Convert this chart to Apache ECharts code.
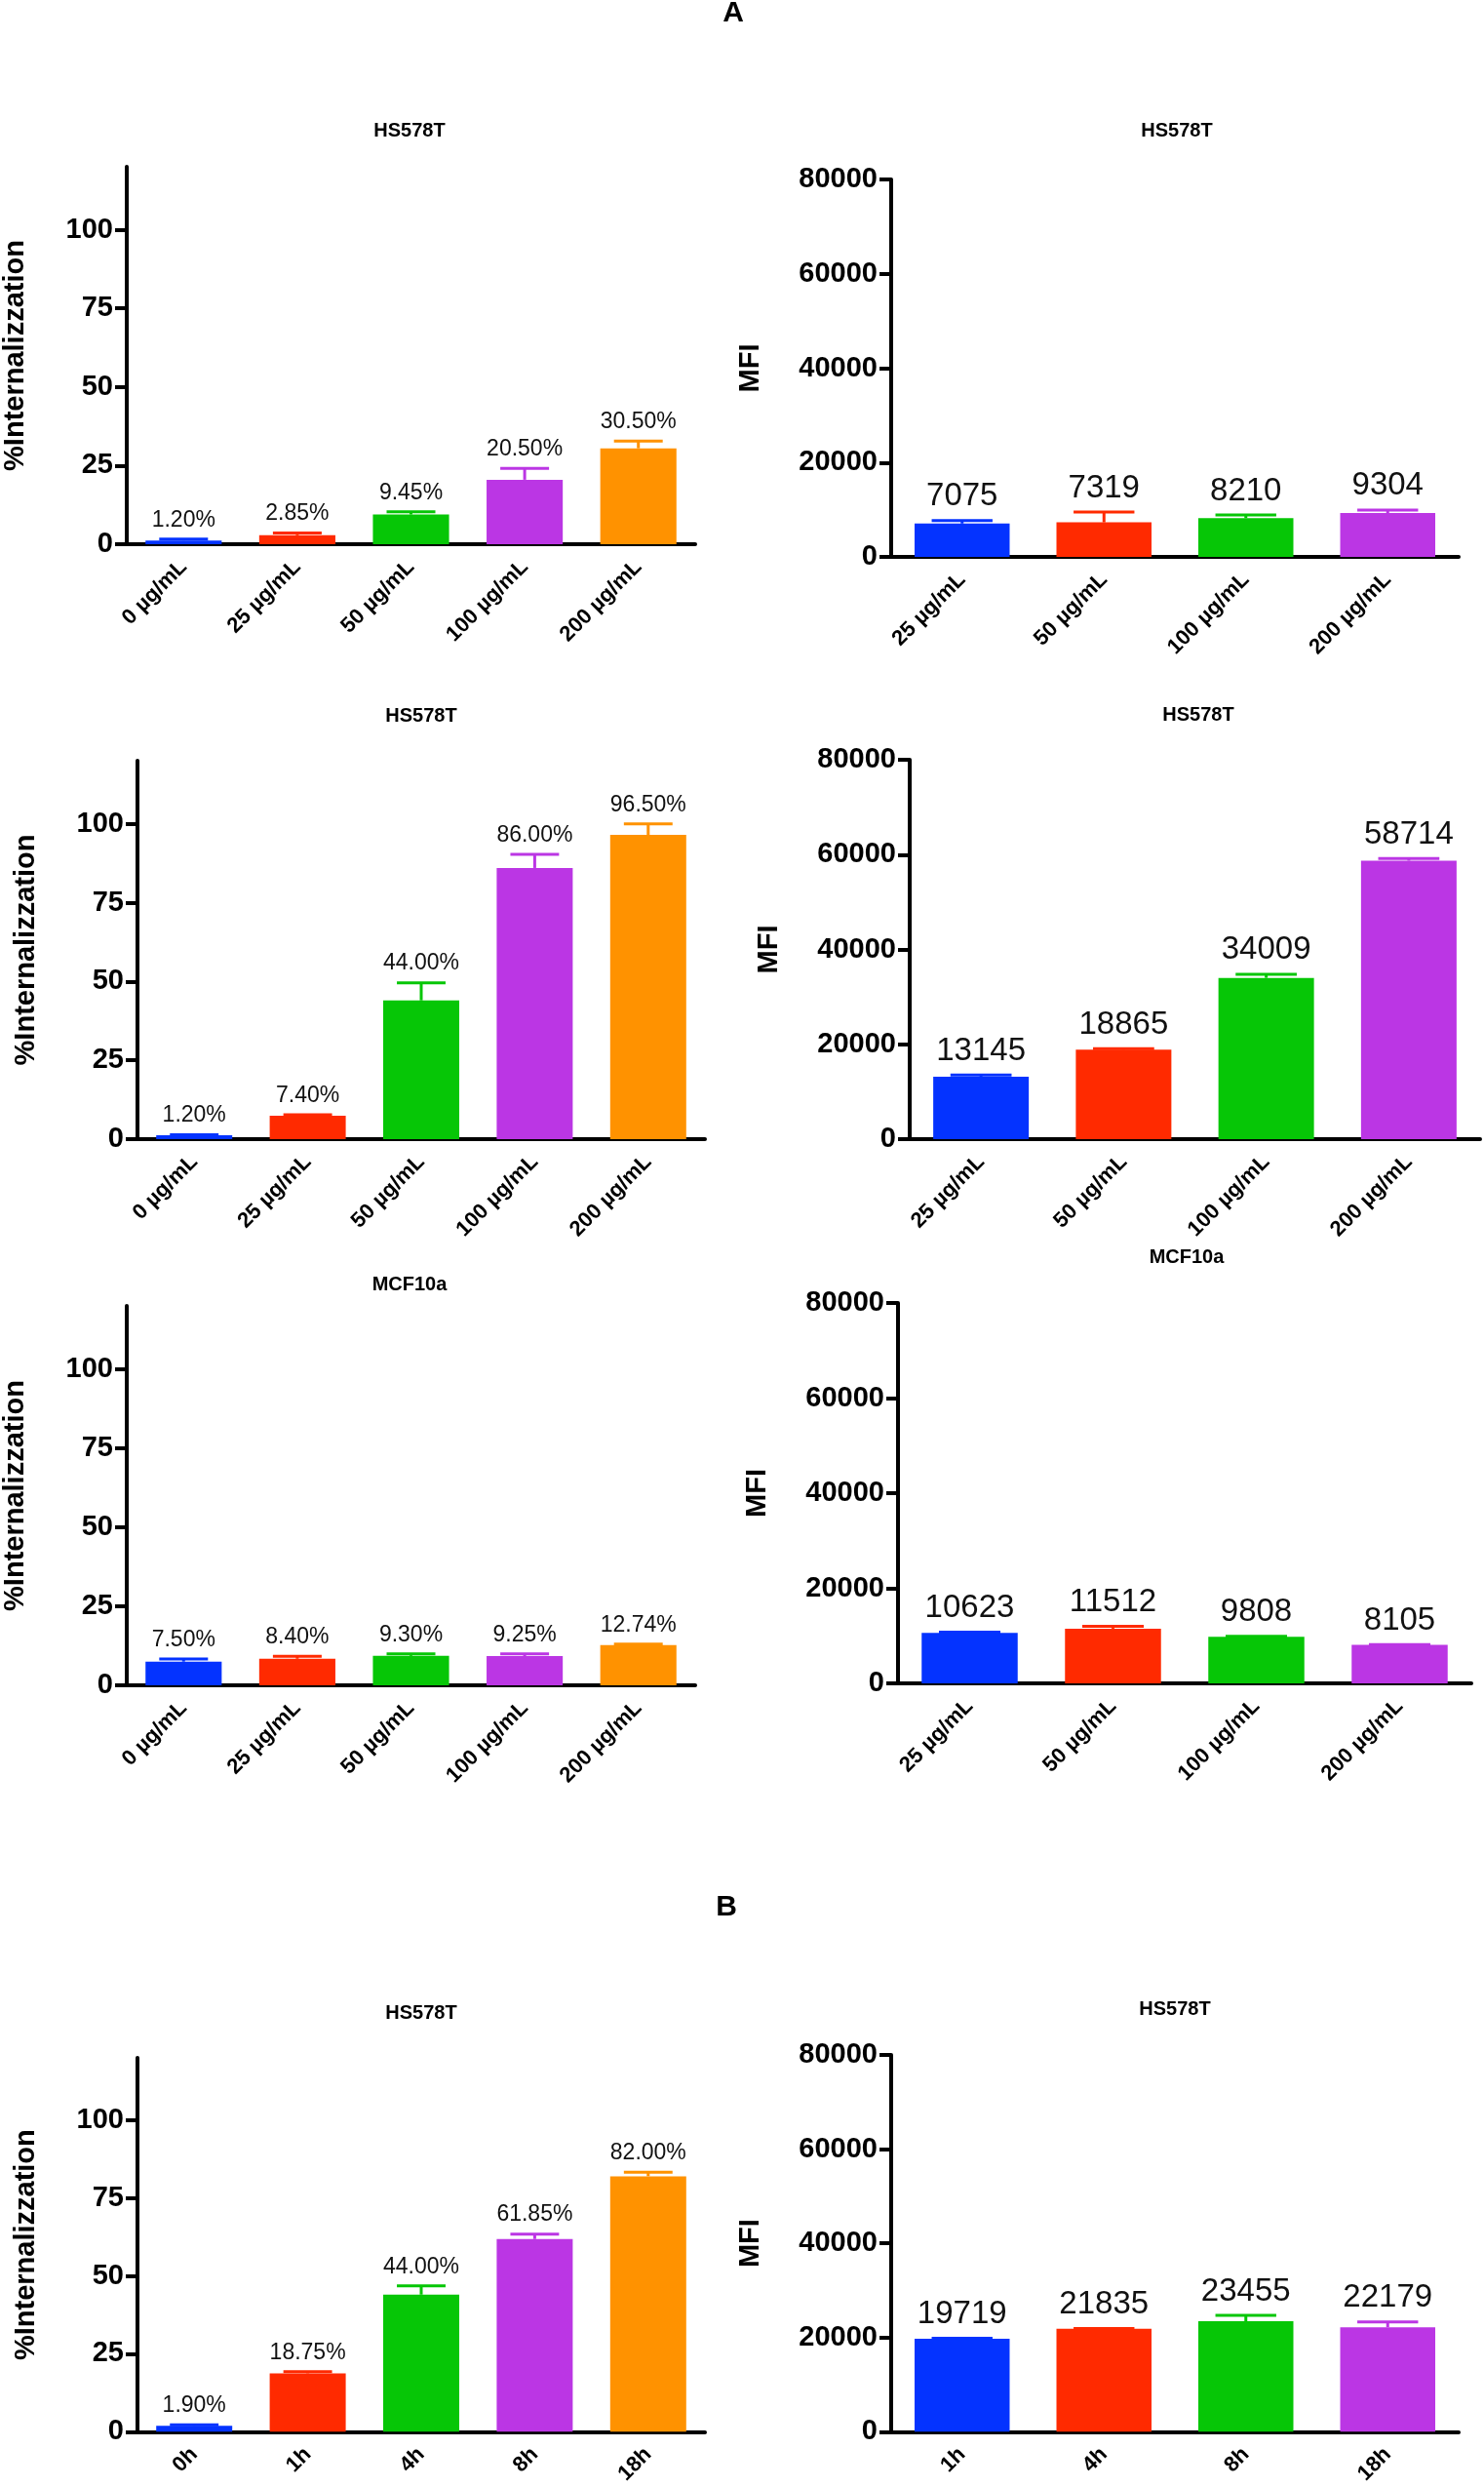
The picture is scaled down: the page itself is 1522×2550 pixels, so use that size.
<!DOCTYPE html>
<html>
<head>
<meta charset="utf-8">
<script src="https://cdn.jsdelivr.net/npm/echarts@6/dist/echarts.min.js"></script>
<style>
html, body { margin: 0; background: #fff; }
#main { width: 1522px; height: 2550px; }
</style>
</head>
<body>
<div id="main"></div>
<script>
'use strict';

// categories
const catDose5 = ['0 µg/mL', '25 µg/mL', '50 µg/mL', '100 µg/mL', '200 µg/mL'];
const catDose4 = ['25 µg/mL', '50 µg/mL', '100 µg/mL', '200 µg/mL'];
const catTime5 = ['0h', '1h', '4h', '8h', '18h'];
const catTime4 = ['1h', '4h', '8h', '18h'];

// A, row 1 - HS578T
const intA1 = [1.20, 2.85, 9.45, 20.50, 30.50];
const intA1Err = [0.4, 0.75, 0.85, 3.6, 2.3];
const mfiA1 = [7075, 7319, 8210, 9304];
const mfiA1Err = [630, 2180, 660, 640];

// A, row 2 - HS578T
const intA2 = [1.20, 7.40, 44.00, 86.00, 96.50];
const intA2Err = [0.2, 0.3, 5.6, 4.3, 3.5];
const mfiA2 = [13145, 18865, 34009, 58714];
const mfiA2Err = [390, 200, 770, 460];

// A, row 3 - MCF10a
const intA3 = [7.50, 8.40, 9.30, 9.25, 12.74];
const intA3Err = [0.84, 0.74, 0.64, 0.69, 0.3];
const mfiA3 = [10623, 11512, 9808, 8105];
const mfiA3Err = [150, 470, 100, 50];

// B - HS578T time course
const intB = [1.90, 18.75, 44.00, 61.85, 82.00];
const intBErr = [0.3, 0.5, 2.8, 1.6, 1.3];
const mfiB = [19719, 21835, 23455, 22179];
const mfiBErr = [110, 80, 1230, 1140];

// tick labels
const pctTicks = [0, 25, 50, 75, 100];
const mfiTicks = [0, 20000, 40000, 60000, 80000];

const colors = ['#0433ff', '#ff2a00', '#06c606', '#bb36e4', '#ff9200'];
const FONT = '"Liberation Sans", Arial, Helvetica, sans-serif';

// panel list: grid box in px, title, data
const panels = [
    { box: [129, 171, 584, 387], title: ['HS578T', 420, 134], cats: catDose5, vals: intA1, errs: intA1Err, kind: 'pct' },
    { box: [914, 184, 582, 387], title: ['HS578T', 1207, 134], cats: catDose4, vals: mfiA1, errs: mfiA1Err, kind: 'mfi' },
    { box: [141, 780, 582, 388], title: ['HS578T', 432, 734], cats: catDose5, vals: intA2, errs: intA2Err, kind: 'pct' },
    { box: [933, 779, 585, 389], title: ['HS578T', 1229, 733], cats: catDose4, vals: mfiA2, errs: mfiA2Err, kind: 'mfi' },
    { box: [129, 1339, 584, 389], title: ['MCF10a', 420, 1317], cats: catDose5, vals: intA3, errs: intA3Err, kind: 'pct' },
    { box: [921, 1336, 588, 390], title: ['MCF10a', 1217, 1289], cats: catDose4, vals: mfiA3, errs: mfiA3Err, kind: 'mfi' },
    { box: [141, 2110, 582, 388], title: ['HS578T', 432, 2064], cats: catTime5, vals: intB, errs: intBErr, kind: 'pct' },
    { box: [914, 2107, 582, 391], title: ['HS578T', 1205, 2060], cats: catTime4, vals: mfiB, errs: mfiBErr, kind: 'mfi' }
];

const chart = echarts.init(document.getElementById('main'), null, { renderer: 'canvas' });

const grid = [];
const xAxis = [];
const yAxis = [];
const series = [];
const graphic = [];

// renders error bar (mean -> mean+err) with cap, plus the value label above it
function makeErrRender(kind) {
    return (params, api) => {
        const i = api.value(0);
        const mean = api.value(1);
        const err = api.value(2);
        const pBase = api.coord([i, mean]);
        const pTop = api.coord([i, mean + err]);
        const bw = api.size([1, 0])[0] * 0.67;
        const half = bw * 0.32;
        const col = colors[params.dataIndex];
        const txt = kind === 'pct' ? mean.toFixed(2) + '%' : String(Math.round(mean));
        const fs = kind === 'pct' ? 23 : 33;
        return {
            type: 'group',
            children: [{
                type: 'line',
                shape: { x1: pBase[0], y1: pBase[1], x2: pTop[0], y2: pTop[1] },
                style: { stroke: col, lineWidth: 3 }
            }, {
                type: 'line',
                shape: { x1: pTop[0] - half, y1: pTop[1], x2: pTop[0] + half, y2: pTop[1] },
                style: { stroke: col, lineWidth: 3 }
            }, {
                type: 'text',
                style: {
                    text: txt,
                    x: pTop[0],
                    y: pTop[1] - 8,
                    textAlign: 'center',
                    textVerticalAlign: 'bottom',
                    align: 'center',
                    verticalAlign: 'bottom',
                    font: `${fs}px ${FONT}`,
                    fill: '#111'
                }
            }]
        };
    };
}

panels.forEach((p, k) => {
    const isPct = p.kind === 'pct';
    grid.push({ left: p.box[0], top: p.box[1], width: p.box[2], height: p.box[3], containLabel: false });

    xAxis.push({
        type: 'category',
        gridIndex: k,
        data: p.cats,
        axisLine: { lineStyle: { color: '#000', width: 4 } },
        axisTick: { alignWithLabel: true, length: 10, lineStyle: { color: '#000', width: 4 } },
        axisLabel: {
            rotate: 45,
            margin: 20,
            color: '#000',
            fontWeight: 'bold',
            fontSize: 22,
            fontFamily: FONT
        }
    });

    yAxis.push({
        type: 'value',
        gridIndex: k,
        min: 0,
        max: isPct ? 120 : 80000,
        interval: isPct ? 25 : 20000,
        name: isPct ? '%Internalizzation' : 'MFI',
        nameLocation: 'middle',
        nameRotate: 90,
        nameGap: isPct ? 100 : 130,
        nameTextStyle: { color: '#000', fontWeight: 'bold', fontSize: 29, fontFamily: FONT },
        splitLine: { show: false },
        axisLine: { show: true, lineStyle: { color: '#000', width: 4 } },
        axisTick: {
            show: true,
            length: 12,
            customValues: isPct ? pctTicks : mfiTicks,
            lineStyle: { color: '#000', width: 4 }
        },
        axisLabel: {
            margin: 14,
            customValues: isPct ? pctTicks : mfiTicks,
            formatter: v => String(v),
            color: '#000',
            fontWeight: 'bold',
            fontSize: 29,
            fontFamily: FONT
        }
    });

    series.push({
        type: 'bar',
        xAxisIndex: k,
        yAxisIndex: k,
        barWidth: '67%',
        silent: true,
        data: p.vals.map((v, i) => ({ value: v, itemStyle: { color: colors[i] } }))
    });

    series.push({
        type: 'custom',
        xAxisIndex: k,
        yAxisIndex: k,
        silent: true,
        z: 3,
        encode: { x: 0, y: 1 },
        renderItem: makeErrRender(p.kind),
        data: p.vals.map((v, i) => [i, v, p.errs[i]])
    });

    graphic.push({
        type: 'text',
        x: p.title[1],
        y: p.title[2],
        style: {
            text: p.title[0],
            textAlign: 'center',
            textVerticalAlign: 'middle',
            align: 'center',
            verticalAlign: 'middle',
            font: `bold 20px ${FONT}`,
            fill: '#000'
        }
    });
});

// panel letters
[['A', 752, 14], ['B', 745, 1956]].forEach(t => {
    graphic.push({
        type: 'text',
        x: t[1],
        y: t[2],
        style: {
            text: t[0],
            textAlign: 'center',
            textVerticalAlign: 'middle',
            align: 'center',
            verticalAlign: 'middle',
            font: `bold 30px ${FONT}`,
            fill: '#000'
        }
    });
});

const option = {
    animation: false,
    backgroundColor: '#fff',
    grid: grid,
    xAxis: xAxis,
    yAxis: yAxis,
    series: series,
    graphic: graphic
};

chart.setOption(option);
</script>
</body>
</html>
